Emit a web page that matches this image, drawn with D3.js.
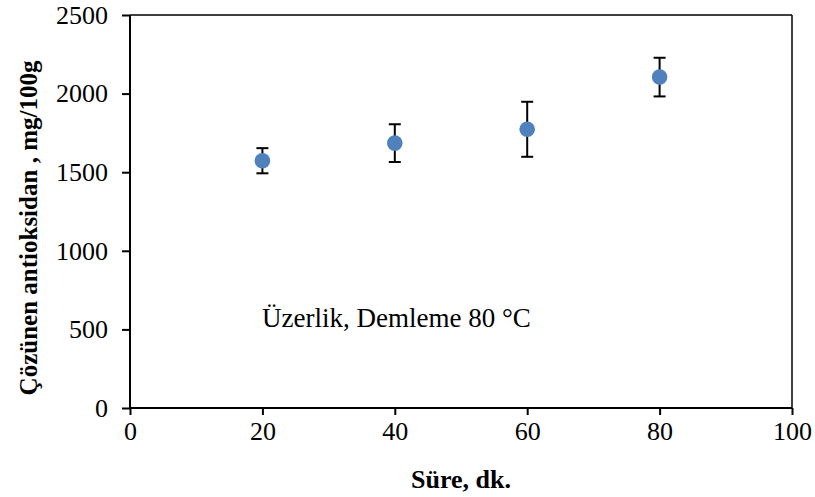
<!DOCTYPE html>
<html><head><meta charset="utf-8">
<script src="https://cdn.jsdelivr.net/npm/d3@7"></script>
<style>body{margin:0;background:#fff}text{font-family:"Liberation Serif","Times New Roman",serif;fill:#000}</style>
</head><body>
<svg id="c" width="815" height="497"></svg>
<script>
const times = [20, 40, 60, 80];
const values = [1573, 1685, 1773, 2105];
const errors = [80, 120, 175, 123];
const xTicks = [0, 20, 40, 60, 80, 100];
const yTicks = [0, 500, 1000, 1500, 2000, 2500];
const xTitle = "Süre, dk.";
const yTitle = "Çözünen antioksidan , mg/100g";
const note = "Üzerlik, Demleme 80 °C";

const svg = d3.select("#c");
const L = 130, R = 792, T = 15, B = 408;
const x = d3.scaleLinear().domain([0, 100]).range([L, R]);
const y = d3.scaleLinear().domain([0, 2500]).range([B, T]);

// frame
svg.append("line").attr("x1", L).attr("x2", R).attr("y1", T).attr("y2", T).attr("stroke", "#000").attr("stroke-width", 1.5);
svg.append("line").attr("x1", R).attr("x2", R).attr("y1", T).attr("y2", B).attr("stroke", "#000").attr("stroke-width", 1.5);

const gx = svg.append("g").attr("transform", `translate(0,${B})`)
  .call(d3.axisBottom(x).tickValues(xTicks).tickSize(7).tickPadding(7).tickFormat(d3.format("d")));
const gy = svg.append("g").attr("transform", `translate(${L},0)`)
  .call(d3.axisLeft(y).tickValues(yTicks).tickSize(8).tickPadding(14).tickFormat(d3.format("d")));
[gx, gy].forEach(g => {
  g.select(".domain").attr("stroke", "#000").attr("stroke-width", 2);
  g.selectAll(".tick line").attr("stroke", "#000").attr("stroke-width", 2);
  g.selectAll(".tick text").style("font-family", '"Liberation Serif","Times New Roman",serif').style("font-size", "26px").attr("fill", "#000");
});
gx.select(".domain").attr("d", `M${L},0H${R}`);
gy.select(".domain").attr("d", `M0,${B}V${T}`);
gx.selectAll(".tick text").attr("dy", "0.71em");

// error bars
const eb = svg.append("g");
times.forEach((t, i) => {
  const cx = x(t), y1 = y(values[i] + errors[i]), y0 = y(values[i] - errors[i]);
  eb.append("line").attr("x1", cx).attr("x2", cx).attr("y1", y1).attr("y2", y0).attr("stroke", "#000").attr("stroke-width", 2);
  [y1, y0].forEach(yy => eb.append("line").attr("x1", cx - 6).attr("x2", cx + 6).attr("y1", yy).attr("y2", yy).attr("stroke", "#000").attr("stroke-width", 2));
});
svg.append("g").selectAll("circle").data(times).join("circle")
  .attr("cx", d => x(d)).attr("cy", (d, i) => y(values[i])).attr("r", 7.8).attr("fill", "#4f81bd");

svg.append("text").attr("x", 262).attr("y", 327).style("font-size", "27px").text(note);
svg.append("text").attr("x", (L + R) / 2).attr("y", 488).attr("text-anchor", "middle")
  .style("font-size", "26px").style("font-weight", "bold").text(xTitle);
svg.append("text").attr("transform", `translate(37,228) rotate(-90)`).attr("text-anchor", "middle")
  .style("font-size", "25px").style("font-weight", "bold").text(yTitle);
</script>
</body></html>
